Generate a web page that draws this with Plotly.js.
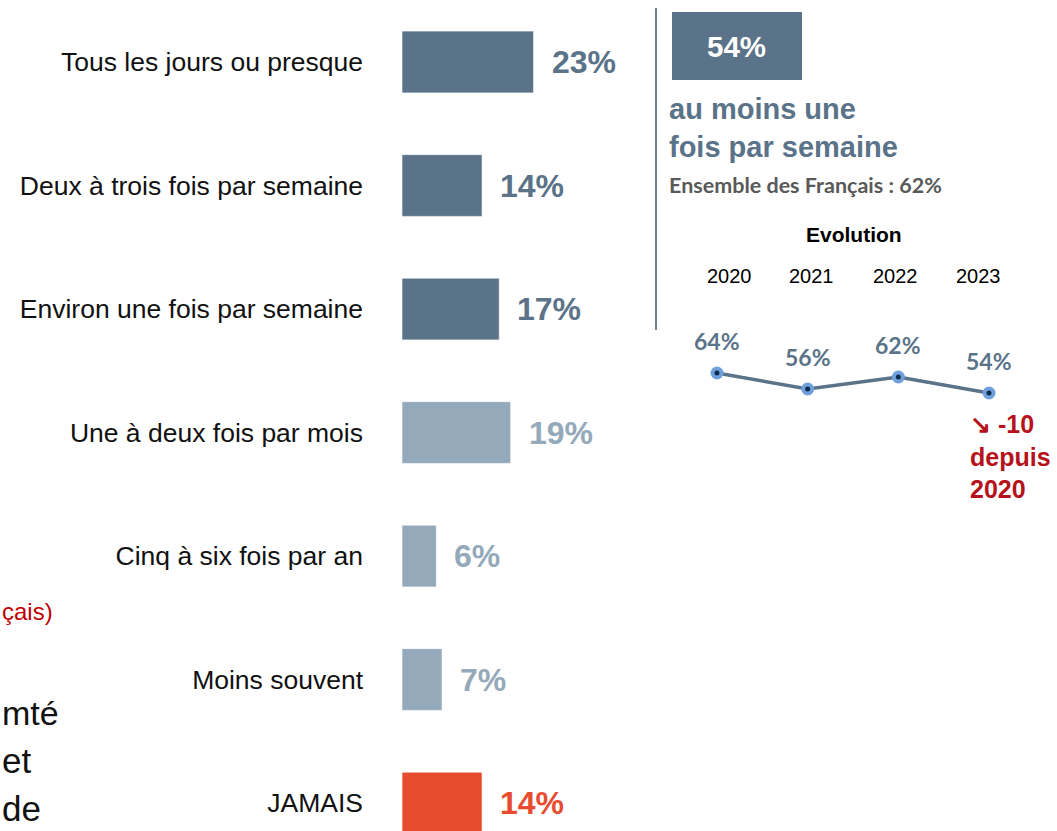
<!DOCTYPE html>
<html>
<head>
<meta charset="utf-8">
<script src="https://cdn.plot.ly/plotly-3.0.1.min.js"></script>
<style>html,body{margin:0;padding:0;background:#fff;}#chart{width:1057px;height:831px;}</style>
</head>
<body>
<div id="chart"></div>
<script>
// ---- data ----
const categories = ["Tous les jours ou presque", "Deux à trois fois par semaine", "Environ une fois par semaine",
  "Une à deux fois par mois", "Cinq à six fois par an", "Moins souvent", "JAMAIS"];
const shares = [23, 14, 17, 19, 6, 7, 14];
const groups = ["weekly", "weekly", "weekly", "occasional", "occasional", "occasional", "never"];
const years = [2020, 2021, 2022, 2023];
const weeklyTrend = [64, 56, 62, 54];
const overallWeekly = 62;

// ---- styles ----
const W = 1057, H = 831;
const px = x => x / W, py = y => 1 - y / H;
const groupColor = {weekly: "#5a7389", occasional: "#94a9ba", never: "#e84c30"};
const dark = "#5a7389";
const red = "#c00000";
const sans = "Arial, 'Liberation Sans', sans-serif";
const calib = "Lato, 'Open Sans', sans-serif";

const barColors = groups.map(g => groupColor[g]);
const idx = categories.map((_, i) => i);

const traces = [
  {
    type: "bar", orientation: "h", x: shares, y: idx, width: 0.5,
    marker: {color: barColors, line: {color: "rgba(255,255,255,0.6)", width: 1}},
    xaxis: "x", yaxis: "y", hoverinfo: "skip"
  },
  {
    type: "scatter", mode: "lines+markers", x: years, y: weeklyTrend,
    line: {color: dark, width: 3.5},
    marker: {color: "#6fa0dc", size: 13},
    xaxis: "x2", yaxis: "y2", hoverinfo: "skip"
  },
  {
    type: "scatter", mode: "markers", x: years, y: weeklyTrend,
    marker: {color: "#0d2a4f", size: 5},
    xaxis: "x2", yaxis: "y2", hoverinfo: "skip"
  }
];

const annotations = [];
// bar value labels
shares.forEach((v, i) => {
  annotations.push({xref: "x", yref: "y", x: v, y: i, xanchor: "left", yanchor: "middle", xshift: 16,
    text: "<b>" + v + "%</b>", showarrow: false, font: {family: sans, size: 32, color: barColors[i]}});
});
// line value labels
weeklyTrend.forEach((v, i) => {
  annotations.push({xref: "x2", yref: "y2", x: years[i], y: v, xanchor: "center", yanchor: "middle", yshift: 32,
    text: "<b>" + v + "%</b>", showarrow: false, font: {family: calib, size: 23, color: dark}});
});
// year headers
const yearHeaderX = [729, 811, 895, 978];
years.forEach((yr, i) => {
  annotations.push({xref: "paper", yref: "paper", x: px(yearHeaderX[i]), y: py(276), xanchor: "center", yanchor: "middle",
    text: String(yr), showarrow: false, font: {family: sans, size: 20, color: "#000"}});
});
const last = weeklyTrend[weeklyTrend.length - 1];
const diff = last - weeklyTrend[0];
annotations.push(
  {xref: "paper", yref: "paper", x: px(737), y: py(47), xanchor: "center", yanchor: "middle",
    text: "<b>" + last + "%</b>", showarrow: false, font: {family: sans, size: 29.5, color: "#fff"}},
  {xref: "paper", yref: "paper", x: px(667), y: py(128), xanchor: "left", yanchor: "middle", align: "left",
    text: "<b>au moins une<br>fois par semaine</b>", showarrow: false, font: {family: sans, size: 29, color: dark}},
  {xref: "paper", yref: "paper", x: px(667), y: py(185), xanchor: "left", yanchor: "middle",
    text: "<b>Ensemble des Français : " + overallWeekly + "%</b>", showarrow: false, font: {family: calib, size: 21.5, color: "#595959"}},
  {xref: "paper", yref: "paper", x: px(854), y: py(234), xanchor: "center", yanchor: "middle",
    text: "<b>Evolution</b>", showarrow: false, font: {family: sans, size: 21, color: "#000"}},
  {xref: "paper", yref: "paper", x: px(968), y: py(456), xanchor: "left", yanchor: "middle", align: "left",
    text: "<b>↘ " + diff + "<br>depuis<br>" + years[0] + "</b>", showarrow: false,
    font: {family: sans, size: 25, color: "#b5121b"}},
  // visible fragments of the neighbouring slide panel
  {xref: "paper", yref: "paper", x: 0, y: py(611), xanchor: "left", yanchor: "middle",
    text: "çais)", showarrow: false, font: {family: sans, size: 24, color: red}},
  {xref: "paper", yref: "paper", x: 0, y: py(713), xanchor: "left", yanchor: "middle",
    text: "mté", showarrow: false, font: {family: sans, size: 34, color: "#111"}},
  {xref: "paper", yref: "paper", x: 0, y: py(760), xanchor: "left", yanchor: "middle",
    text: "et", showarrow: false, font: {family: sans, size: 35, color: "#111"}},
  {xref: "paper", yref: "paper", x: 0, y: py(808), xanchor: "left", yanchor: "middle",
    text: "de", showarrow: false, font: {family: sans, size: 35, color: "#111"}}
);

const layout = {
  width: W, height: H,
  margin: {l: 0, r: 0, t: 0, b: 0},
  paper_bgcolor: "#fff", plot_bgcolor: "rgba(0,0,0,0)",
  showlegend: false,
  xaxis: {domain: [px(402), px(402 + 5.72 * 40)], range: [0, 40], visible: false, fixedrange: true},
  yaxis: {domain: [0, 1], range: [(831 - 62) / 123.5, -62 / 123.5], tickvals: idx, ticktext: categories,
    showgrid: false, zeroline: false, showline: false, ticks: "", ticklabelstandoff: 38,
    tickfont: {family: sans, size: 26.5, color: "#111"}, fixedrange: true},
  xaxis2: {domain: [px(717 - 45.33), px(989 + 45.33)], range: [2019.5, 2023.5], visible: false, anchor: "y2"},
  yaxis2: {domain: [py(420), py(300)], range: [40.5, 100.5], visible: false, anchor: "x2"},
  shapes: [
    {type: "line", xref: "paper", yref: "paper", x0: px(656), x1: px(656), y0: py(8), y1: py(330),
      line: {color: "#6a8196", width: 2}},
    {type: "rect", xref: "paper", yref: "paper", x0: px(672), x1: px(802), y0: py(80), y1: py(12),
      fillcolor: dark, line: {width: 0}, layer: "below"}
  ],
  annotations: annotations
};

Plotly.newPlot("chart", traces, layout, {staticPlot: true, displayModeBar: false});
</script>
</body>
</html>
